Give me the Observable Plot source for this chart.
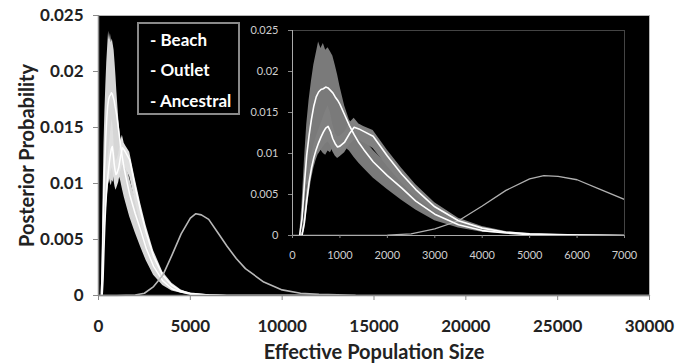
<!DOCTYPE html>
<html><head><meta charset="utf-8">
<script src="https://cdn.jsdelivr.net/npm/d3@7"></script>
<script src="https://cdn.jsdelivr.net/npm/@observablehq/plot@0.6"></script>
<style>
body{margin:0;background:#fff;}
#chart{position:relative;width:687px;height:364px;font-family:Lato,sans-serif;}
#chart svg{position:absolute;left:0;top:0;}
#legend{position:absolute;left:137px;top:22px;width:103px;height:93px;box-sizing:border-box;border:2px solid #8a8a8a;background:#000;}
#legend span{position:absolute;left:11px;color:#fff;font:bold 17px Lato,sans-serif;line-height:20px;white-space:nowrap;}
</style></head><body><div id="chart"></div>
<script>
// Effective population size grid (x) for Beach / Outlet posteriors
const neGrid = [150,200,250,300,350,400,450,500,550,600,650,700,750,800,850,900,950,1000,1100,1200,1300,1400,1500,1700,2000,2300,2600,3000,3500,4000,4500,5000,6000,7000,10000,12000];
const beachMean = [0,0.002,0.0062,0.0098,0.0122,0.0142,0.0158,0.0169,0.0175,0.0178,0.0179,0.0181,0.018,0.0177,0.0174,0.0169,0.0165,0.016,0.0147,0.0134,0.0123,0.0113,0.0105,0.009,0.0073,0.0058,0.0042,0.0026,0.0013,0.0006,0.0003,0.0001,0.00003,0,0,0];
const beachLow = [0,0.0008,0.003,0.0058,0.0072,0.0086,0.0095,0.0101,0.0099,0.0104,0.01,0.0098,0.0103,0.0101,0.0106,0.0103,0.0107,0.0104,0.0108,0.0103,0.0095,0.0088,0.0082,0.007,0.0056,0.0043,0.0031,0.0018,0.0009,0.0004,0.0002,0.0001,0,0,0,0];
const beachHigh = [0,0.0038,0.009,0.0135,0.0165,0.0188,0.0208,0.0222,0.0236,0.0228,0.0234,0.0226,0.0229,0.0224,0.0219,0.0208,0.0196,0.0182,0.0158,0.0141,0.0133,0.0124,0.0118,0.0104,0.0087,0.007,0.0052,0.0033,0.0017,0.0008,0.0004,0.00015,0.00005,0,0,0];
const outletMean = [0,0,0.0015,0.0042,0.0065,0.0082,0.0095,0.0105,0.0113,0.012,0.0126,0.0131,0.0133,0.0127,0.0118,0.0112,0.0108,0.0109,0.0114,0.0124,0.0132,0.013,0.0127,0.0121,0.0097,0.0075,0.0056,0.0035,0.0018,0.0009,0.0004,0.0002,0.00005,0,0,0];
const outletLow = [0,0,0.0005,0.0028,0.005,0.0068,0.0082,0.0092,0.01,0.0104,0.0108,0.0112,0.0114,0.011,0.0102,0.0097,0.0094,0.0096,0.0101,0.011,0.0116,0.0116,0.0113,0.0106,0.0084,0.0064,0.0047,0.0029,0.0014,0.0007,0.0003,0.0001,0,0,0,0];
const outletHigh = [0,0.0004,0.0026,0.0058,0.0082,0.0098,0.011,0.012,0.0128,0.0136,0.0144,0.0152,0.0158,0.015,0.0135,0.0125,0.012,0.0121,0.0126,0.0137,0.0143,0.0136,0.0133,0.0128,0.0104,0.0082,0.0062,0.004,0.0021,0.0011,0.0005,0.0002,0.00006,0,0,0];
// Ancestral posterior
const ancestralNe = [0,1000,2000,2500,3000,3500,4000,4500,5000,5300,5600,6000,6500,7000,7500,8000,9000,10000,11000,12000,14000,20000,30000];
const ancestralP = [0,0,0.00005,0.0002,0.0008,0.0018,0.0036,0.0055,0.0069,0.0073,0.0072,0.0068,0.0056,0.0044,0.0033,0.0024,0.0012,0.0005,0.0002,0.0001,0.00002,0,0];
// Axes
const mainXTicks = [0,5000,10000,15000,20000,25000,30000];
const mainXLabels = ["0","5000","10000","15000","20000","25000","30000"];
const mainYTicks = [0,0.005,0.01,0.015,0.02,0.025];
const mainYLabels = ["0","0.005","0.01","0.015","0.02","0.025"];
const insetXTicks = [0,1000,2000,3000,4000,5000,6000,7000];
const insetXLabels = ["0","1000","2000","3000","4000","5000","6000","7000"];
const insetYTicks = [0,0.005,0.01,0.015,0.02,0.025];
const insetYLabels = ["0","0.005","0.01","0.015","0.02","0.025"];
const legendLabels = ["- Beach","- Outlet","- Ancestral"];
const xTitle = "Effective Population Size";
const yTitle = "Posterior Probability";

const beach = neGrid.map((ne,i)=>({ne, mean:beachMean[i], lo:beachLow[i], hi:beachHigh[i]}));
const outlet = neGrid.map((ne,i)=>({ne, mean:outletMean[i], lo:outletLow[i], hi:outletHigh[i]}));
const ancestral = ancestralNe.map((ne,i)=>({ne, p:ancestralP[i]}));
const fmt = (ticks, labels) => { const m = new Map(ticks.map((t,i)=>[t,labels[i]])); return d => m.get(d); };

const W = 687, H = 364;
const main = Plot.plot({
  width: W, height: H,
  marginLeft: 98, marginRight: 38, marginTop: 15, marginBottom: 69,
  style: {background: "transparent", fontFamily: "Lato, sans-serif", overflow: "visible"},
  x: {domain: [0, 30000]},
  y: {domain: [0, 0.025]},
  marks: [
    Plot.frame({fill: "#000", stroke: "#b5b5b5"}),
    Plot.areaY(beach, {x: "ne", y1: "lo", y2: "hi", fill: "#d6d6d6"}),
    Plot.areaY(outlet, {x: "ne", y1: "lo", y2: "hi", fill: "#e0e0e0"}),
    Plot.line(beach, {x: "ne", y: "mean", stroke: "#fff", strokeWidth: 1.5}),
    Plot.line(outlet, {x: "ne", y: "mean", stroke: "#fff", strokeWidth: 1.5}),
    Plot.line(ancestral, {x: "ne", y: "p", stroke: "#b8b8b8", strokeWidth: 1.6}),
    Plot.ruleY([0], {stroke: "#8a8a8a", strokeWidth: 1.5}),
    Plot.ruleX([0], {stroke: "#8a8a8a", strokeWidth: 1.5}),
    Plot.axisX({ticks: mainXTicks, tickFormat: fmt(mainXTicks, mainXLabels), tickSize: 5, tickPadding: 19, stroke: "#8a8a8a", fill: "#222", fontSize: 17, fontWeight: "bold", label: null}),
    Plot.axisY({ticks: mainYTicks, tickFormat: fmt(mainYTicks, mainYLabels), tickSize: 5, tickPadding: 10, stroke: "#8a8a8a", fill: "#222", fontSize: 17, fontWeight: "bold", label: null}),
    Plot.text([xTitle], {text: d => d, frameAnchor: "bottom", dy: 57, fontSize: 20, fontWeight: "bold", fill: "#222", lineAnchor: "middle", textAnchor: "middle"}),
    Plot.text([yTitle], {text: d => d, frameAnchor: "left", dx: -71, rotate: -90, fontSize: 20, fontWeight: "bold", fill: "#222", lineAnchor: "middle", textAnchor: "middle"})
  ]
});

const inset = Plot.plot({
  width: W, height: H,
  marginLeft: 292, marginRight: 63, marginTop: 30, marginBottom: 129,
  style: {background: "transparent", fontFamily: "Lato, sans-serif", overflow: "visible", pointerEvents: "none"},
  x: {domain: [0, 7000]},
  y: {domain: [0, 0.025]},
  marks: [
    Plot.frame({stroke: "#444"}),
    Plot.areaY(beach, {x: "ne", y1: "lo", y2: "hi", fill: "#7a7a7a", clip: true}),
    Plot.areaY(outlet, {x: "ne", y1: "lo", y2: "hi", fill: "#808080", clip: true}),
    Plot.line(ancestral, {x: "ne", y: "p", stroke: "#b0b0b0", strokeWidth: 1.3, clip: true}),
    Plot.line(beach, {x: "ne", y: "mean", stroke: "#fff", strokeWidth: 1.6, clip: true}),
    Plot.line(outlet, {x: "ne", y: "mean", stroke: "#fff", strokeWidth: 1.6, clip: true}),
    Plot.ruleY([0], {stroke: "#aaa"}),
    Plot.ruleX([0], {stroke: "#aaa"}),
    Plot.axisX({ticks: insetXTicks, tickFormat: fmt(insetXTicks, insetXLabels), tickSize: 3, tickPadding: 13, stroke: "#888", fill: "#cfcfcf", fontSize: 11, label: null}),
    Plot.axisY({ticks: insetYTicks, tickFormat: fmt(insetYTicks, insetYLabels), tickSize: 4, tickPadding: 10, stroke: "#888", fill: "#cfcfcf", fontSize: 11, label: null})
  ]
});

const chart = document.getElementById("chart");
chart.appendChild(main);
chart.appendChild(inset);
const legend = document.createElement("div");
legend.id = "legend";
const legendTops = [6, 36, 67];
legendLabels.forEach((t, i) => {
  const s = document.createElement("span");
  s.textContent = t;
  s.style.top = legendTops[i] + "px";
  legend.appendChild(s);
});
chart.appendChild(legend);
</script></body></html>
